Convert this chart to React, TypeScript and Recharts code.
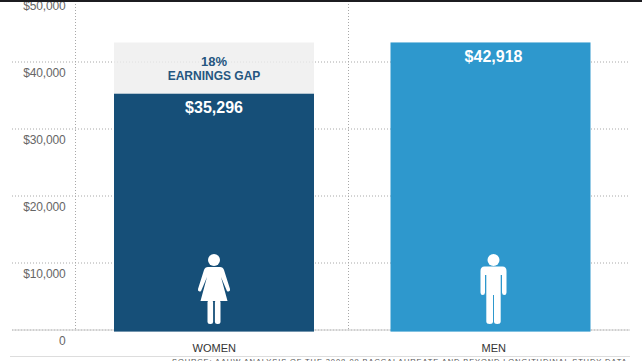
import React from 'react';
import { BarChart, Bar, XAxis, YAxis, CartesianGrid, LabelList } from 'recharts';

const categories = ['WOMEN', 'MEN'];
const earnings = [35296, 42918];
const gap = [7622, 0];
const yTicks = [0, 10000, 20000, 30000, 40000, 50000];

const chartData = categories.map((name, i) => ({ name, earnings: earnings[i], gap: gap[i] }));

const barColors = ['#164f78', '#2e98cd'];
const font = '"Liberation Sans", Arial, sans-serif';
// men's labels sit a little right of the bar centre in the original
const labelShift = [0, 3];

const WomanIcon = () => (
  <g fill="#fff">
    <circle cx={0} cy={-70} r={6} />
    <path d="M-6,-63 H6 Q9,-63 10,-60 L16,-41 Q16.5,-39 14.5,-38.5 Q13,-38 12.5,-40 L7,-53 L13.5,-29 H-13.5 L-7,-53 L-12.5,-40 Q-13,-38 -14.5,-38.5 Q-16.5,-39 -16,-41 L-10,-60 Q-9,-63 -6,-63 Z" />
    <rect x={-6.5} y={-30} width={5.6} height={24} rx={2.5} />
    <rect x={0.9} y={-30} width={5.6} height={24} rx={2.5} />
  </g>
);

const ManIcon = () => (
  <g fill="#fff">
    <circle cx={0} cy={-70} r={6} />
    <path d="M-9,-63.5 H9 Q13,-63.5 13,-59 V-37.5 Q13,-35 10.8,-35 Q8.6,-35 8.5,-37.5 V-55 H7.2 V-8.5 Q7.2,-6 3.7,-6 Q0.5,-6 0.5,-8.5 V-35 H-0.5 V-8.5 Q-0.5,-6 -3.7,-6 Q-7.2,-6 -7.2,-8.5 V-55 H-8.5 V-37.5 Q-8.6,-35 -10.8,-35 Q-13,-35 -13,-37.5 V-59 Q-13,-63.5 -9,-63.5 Z" />
  </g>
);

const EarningsBar = (props: any) => {
  const { x, y, width, height, index } = props;
  return (
    <g>
      {/* bars run slightly past the baseline in the original */}
      <rect x={x} y={y} width={width} height={height + 1.6} fill={barColors[index]} />
      <g transform={`translate(${x + width / 2 + labelShift[index]},${y + height})`}>
        {index === 0 ? <WomanIcon /> : <ManIcon />}
      </g>
    </g>
  );
};

const ValueLabel = (props: any) => {
  const { x, y, width, value, index } = props;
  return (
    <text
      x={x + width / 2 + labelShift[index]}
      y={y + 19.8}
      textAnchor="middle"
      fill="#fff"
      fontFamily={font}
      fontSize={16}
      fontWeight="bold"
    >
      ${value.toLocaleString('en-US')}
    </text>
  );
};

const GapLabel = (props: any) => {
  const { x, y, width, index } = props;
  if (!gap[index]) return null;
  const cx = x + width / 2;
  return (
    <text textAnchor="middle" fill="#255680" fontFamily={font} fontWeight="bold">
      <tspan x={cx} y={y + 23.8} fontSize={13}>18%</tspan>
      <tspan x={cx} y={y + 37.8} fontSize={12}>EARNINGS GAP</tspan>
    </text>
  );
};

const YTick = (props: any) => {
  const { y, payload } = props;
  return (
    <text x={65.5} y={y + 14.5} textAnchor="end" fill="#666" fontFamily={font} fontSize={12} letterSpacing={-0.15}>
      {payload.value === 0 ? '0' : `$${payload.value.toLocaleString('en-US')}`}
    </text>
  );
};

const XTick = (props: any) => {
  const { x, y, payload, index } = props;
  return (
    <text x={x + labelShift[index]} y={y + 13.8} textAnchor="middle" fill="#333" fontFamily={font} fontSize={11}>
      {payload.value}
    </text>
  );
};

const App: React.FC = () => {
  return (
    <div style={{ position: 'absolute', left: 0, top: 0, width: 642, height: 361, overflow: 'hidden', background: '#fff' }}>
      <div style={{ position: 'absolute', left: 0, top: -20 }}>
        <BarChart
          width={642}
          height={381}
          data={chartData}
          margin={{ top: 15, right: 12, left: 11, bottom: 1 }}
          barSize={200}
        >
          <CartesianGrid stroke="#a8a8a8" strokeDasharray="1 2" verticalPoints={[75.5, 348.5]} />
          <CartesianGrid stroke="#ccc" vertical={false} horizontalValues={[0]} />
          <XAxis
            dataKey="name"
            height={30}
            padding={{ left: 64, right: 1 }}
            axisLine={false}
            tickLine={false}
            tick={XTick}
            interval={0}
          />
          <YAxis
            width={1}
            domain={[0, 50000]}
            ticks={yTicks}
            axisLine={false}
            tickLine={false}
            tick={YTick}
            interval={0}
          />
          <Bar dataKey="earnings" stackId="a" shape={EarningsBar} isAnimationActive={false}>
            <LabelList dataKey="earnings" content={ValueLabel} />
          </Bar>
          <Bar dataKey="gap" stackId="a" fill="#eeeeee" fillOpacity={0.8} isAnimationActive={false}>
            <LabelList dataKey="gap" content={GapLabel} />
          </Bar>
        </BarChart>
      </div>
      <div style={{ position: 'absolute', left: 0, top: 0, width: 642, height: 2, background: '#1c1c20' }} />
      <div style={{ position: 'absolute', left: 10, top: 356, width: 620, height: 1, background: '#ddd' }} />
      <div
        style={{
          position: 'absolute',
          left: 172,
          top: 357,
          whiteSpace: 'nowrap',
          fontFamily: font,
          fontSize: 7.5,
          letterSpacing: 0.9,
          lineHeight: '9px',
          color: '#555',
        }}
      >
        SOURCE: AAUW ANALYSIS OF THE 2008-09 BACCALAUREATE AND BEYOND LONGITUDINAL STUDY DATA
      </div>
    </div>
  );
};

export default App;
